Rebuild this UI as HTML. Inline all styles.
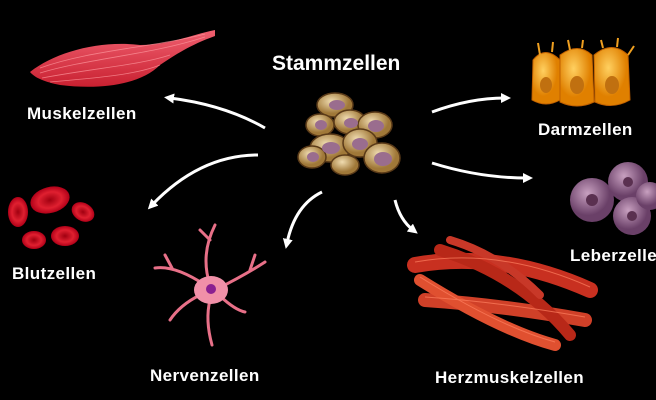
<!DOCTYPE html>
<html><head><meta charset="utf-8"><style>
html,body{margin:0;padding:0;background:#000;width:656px;height:400px;overflow:hidden}
svg{display:block}
text{font-family:"Liberation Sans",sans-serif;font-weight:bold;fill:#fff}
</style></head><body>
<svg width="656" height="400" viewBox="0 0 656 400" xmlns="http://www.w3.org/2000/svg">
<defs>
<marker id="ah" markerWidth="12" markerHeight="12" refX="4" refY="5" orient="auto" markerUnits="userSpaceOnUse"><path d="M0,0 L10,5 L0,10 Z" fill="#fff"/></marker>
<radialGradient id="tan" cx="40%" cy="35%"><stop offset="0" stop-color="#f0dcb0"/><stop offset="1" stop-color="#a07838"/></radialGradient>
<radialGradient id="org" cx="40%" cy="35%"><stop offset="0" stop-color="#ffd060"/><stop offset="1" stop-color="#e08000"/></radialGradient>
<radialGradient id="liv" cx="40%" cy="35%"><stop offset="0" stop-color="#c8a0c0"/><stop offset="1" stop-color="#6a4068"/></radialGradient>
<radialGradient id="bld" cx="50%" cy="50%"><stop offset="0" stop-color="#a00010"/><stop offset=".6" stop-color="#e02030"/><stop offset="1" stop-color="#b00018"/></radialGradient>
<linearGradient id="mus" x1="0" y1="0" x2="0" y2="1"><stop offset="0" stop-color="#f06070"/><stop offset="1" stop-color="#c82030"/></linearGradient>
</defs>
<!-- muscle cell -->
<path d="M30,72 C55,52 100,40 140,45 C170,45 190,35 215,30 L215,36 C190,45 175,55 160,65 C140,85 100,90 60,85 C45,82 35,78 30,72 Z" fill="url(#mus)"/>
<g stroke="#ff9aa0" stroke-width="0.8" fill="none" opacity=".7">
<path d="M40,68 C90,50 150,48 205,34"/><path d="M40,73 C90,58 150,55 205,37"/><path d="M42,78 C95,68 140,65 170,55"/><path d="M50,82 C95,78 135,75 160,65"/>
</g>
<!-- stem cells -->
<g stroke="#5a3a18" stroke-width="1.5">
<ellipse cx="335" cy="105" rx="18" ry="12" fill="url(#tan)"/>
<ellipse cx="320" cy="125" rx="14" ry="11" fill="url(#tan)"/>
<ellipse cx="350" cy="122" rx="16" ry="12" fill="url(#tan)"/>
<ellipse cx="375" cy="125" rx="17" ry="13" fill="url(#tan)"/>
<ellipse cx="330" cy="148" rx="20" ry="14" fill="url(#tan)"/>
<ellipse cx="360" cy="143" rx="17" ry="14" fill="url(#tan)"/>
<ellipse cx="312" cy="157" rx="14" ry="11" fill="url(#tan)"/>
<ellipse cx="382" cy="158" rx="18" ry="15" fill="url(#tan)"/>
<ellipse cx="345" cy="165" rx="14" ry="10" fill="url(#tan)"/>
</g>
<g fill="#9a6d8e">
<ellipse cx="337" cy="105" rx="8" ry="5"/><ellipse cx="351" cy="123" rx="7" ry="5"/>
<ellipse cx="376" cy="126" rx="8" ry="6"/><ellipse cx="331" cy="148" rx="9" ry="6"/>
<ellipse cx="360" cy="144" rx="8" ry="6"/><ellipse cx="383" cy="159" rx="9" ry="7"/>
<ellipse cx="313" cy="157" rx="6" ry="5"/><ellipse cx="321" cy="125" rx="6" ry="5"/>
</g>
<!-- darm -->
<g fill="url(#org)" stroke="#c06000">
<path d="M533,60 Q545,45 560,60 L560,100 Q546,108 532,100 Z"/>
<path d="M560,55 Q578,42 592,55 L594,102 Q577,110 560,102 Z"/>
<path d="M594,55 Q612,40 628,55 L630,100 Q612,110 595,102 Z"/>
</g>
<g fill="#c07010"><ellipse cx="546" cy="85" rx="6" ry="8"/><ellipse cx="577" cy="85" rx="7" ry="9"/><ellipse cx="612" cy="85" rx="7" ry="9"/></g>
<g stroke="#f0a020" stroke-width="2">
<line x1="540" y1="55" x2="538" y2="43"/><line x1="552" y1="52" x2="553" y2="42"/><line x1="570" y1="50" x2="568" y2="40"/><line x1="582" y1="48" x2="583" y2="40"/><line x1="603" y1="48" x2="601" y2="40"/><line x1="617" y1="47" x2="618" y2="38"/><line x1="628" y1="55" x2="634" y2="46"/>
</g>
<!-- liver -->
<g fill="url(#liv)"><circle cx="592" cy="200" r="22"/><circle cx="628" cy="182" r="20"/><circle cx="632" cy="216" r="19"/><circle cx="650" cy="196" r="14"/></g>
<g fill="#5a3050"><circle cx="592" cy="200" r="6"/><circle cx="628" cy="182" r="5"/><circle cx="632" cy="216" r="5"/></g>
<!-- blood -->
<g fill="url(#bld)">
<ellipse cx="50" cy="200" rx="20" ry="13" transform="rotate(-15 50 200)"/>
<ellipse cx="18" cy="212" rx="10" ry="15"/>
<ellipse cx="83" cy="212" rx="12" ry="9" transform="rotate(30 83 212)"/>
<ellipse cx="65" cy="236" rx="14" ry="10"/>
<ellipse cx="34" cy="240" rx="12" ry="9"/>
</g>
<!-- nerve -->
<g stroke="#e87088" stroke-width="3" fill="none" stroke-linecap="round">
<path d="M210,285 Q200,255 215,225"/><path d="M205,285 Q175,265 155,268"/><path d="M215,290 Q245,275 265,262"/>
<path d="M210,300 Q205,320 212,345"/><path d="M200,295 Q180,305 170,320"/><path d="M220,296 Q235,310 245,312"/>
<path d="M210,240 L200,230"/><path d="M172,268 L165,255"/><path d="M250,270 L255,255"/>
</g>
<ellipse cx="211" cy="290" rx="17" ry="14" fill="#f090a8"/>
<circle cx="211" cy="289" r="5" fill="#8a2090"/>
<!-- heart muscle -->
<g stroke-linecap="round" fill="none">
<path d="M415,265 Q500,250 590,290" stroke="#c83020" stroke-width="16"/>
<path d="M425,300 Q500,305 585,320" stroke="#d04028" stroke-width="14"/>
<path d="M440,250 Q520,275 570,335" stroke="#b82818" stroke-width="12"/>
<path d="M420,280 Q500,330 555,345" stroke="#e05030" stroke-width="12"/>
<path d="M450,240 Q500,255 540,295" stroke="#c83828" stroke-width="8"/>
</g>
<g stroke="#ff8060" stroke-width="1" fill="none" opacity=".7">
<path d="M415,262 Q500,247 590,287"/><path d="M425,297 Q500,302 585,317"/><path d="M420,277 Q500,327 555,342"/>
</g>
<!-- arrows -->
<g stroke="#fff" stroke-width="3" fill="none" marker-end="url(#ah)">
<path d="M265,128 Q225,105 170,98"/>
<path d="M258,155 Q200,155 152,205"/>
<path d="M322,192 Q295,205 287,243"/>
<path d="M395,200 Q400,220 413,230"/>
<path d="M432,112 Q470,98 505,98"/>
<path d="M432,163 Q480,178 527,178"/>
</g>
<!-- labels -->
<g font-size="17" letter-spacing="0.4">
<text x="27" y="119">Muskelzellen</text>
<text x="538" y="135">Darmzellen</text>
<text x="12" y="279">Blutzellen</text>
<text x="570" y="261">Leberzellen</text>
<text x="150" y="381">Nervenzellen</text>
<text x="435" y="383">Herzmuskelzellen</text>
</g>
<text x="272" y="70" font-size="21">Stammzellen</text>
</svg>
</body></html>
